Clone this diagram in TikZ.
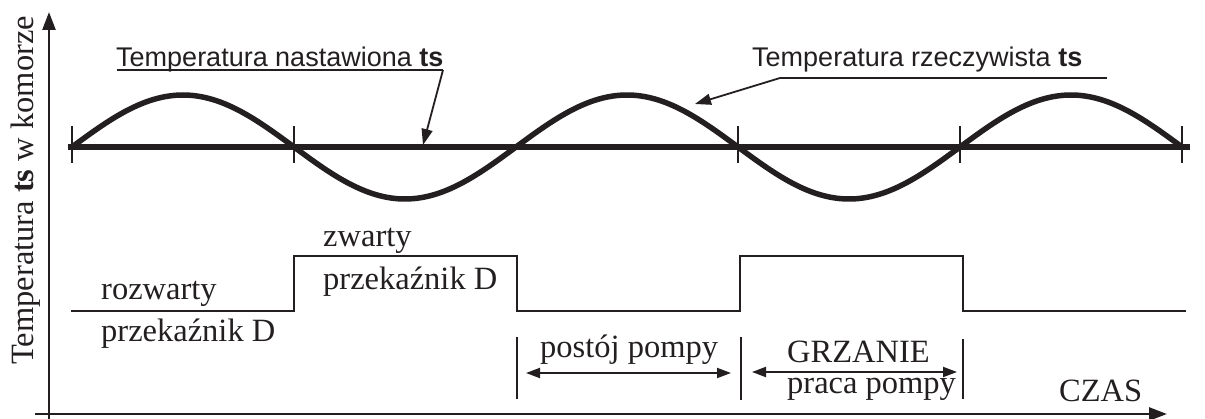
\documentclass[tikz,border=0pt]{standalone}
\usepackage{fontspec}
\setmainfont{Liberation Serif}
\newfontfamily\sansf{Liberation Sans}
\usetikzlibrary{arrows.meta}
\definecolor{ink}{HTML}{231F20}
\begin{document}
\begin{tikzpicture}[x=1pt,y=-1pt, color=ink,
  lbl/.style={inner sep=0pt, text=ink, font=\fontsize{32.5}{36}\selectfont},
  slbl/.style={inner sep=0pt, text=ink, font=\sansf\fontsize{27}{30}\selectfont},
  heavy/.style={line width=5.5pt},
  tickmark/.style={line width=2pt},
  ptr/.style={line width=1.8pt, -{Triangle[length=16pt,width=11pt]}},
  dbl/.style={line width=2pt, {Triangle[length=14pt,width=10pt]}-{Triangle[length=14pt,width=10pt]}},
  axis/.style={line width=2.6pt, -{Triangle[length=18pt,width=13pt]}},
  wave/.style={line width=2.2pt},
  bar/.style={line width=2pt}
]
\useasboundingbox (0,0) rectangle (1205,419);

% axes
\coordinate (yb) at (49,419);
\coordinate (yt) at (49,12);
\coordinate (xl) at (35,414);
\coordinate (xr) at (1167,414);
\draw[axis] (yb) -- (yt);
\draw[axis] (xl) -- (xr);
\node[lbl, rotate=90, anchor=base west] (ylab) at (33,365) {Temperatura \textbf{ts} w komorze};
\node[lbl, anchor=base west] (czas) at (1059,402) {CZAS};

% setpoint line and sine
\coordinate (sl) at (68,147);
\coordinate (sr) at (1190,147);
\draw[heavy] (sl) -- (sr);
\draw[heavy] plot[domain=0:1110, samples=300, smooth] ({\x+72},{147-52*sin(0.810811*\x)});
\foreach \t in {72,294,738,960,1182} \draw[tickmark] (\t,126) -- (\t,163);

% labels with pointers
\node[slbl, anchor=base west] (tn) at (116,67) {Temperatura nastawiona \textbf{ts}};
\coordinate (tnu) at (117,70);
\coordinate (tne) at (443,70);
\coordinate (tnt) at (423,145);
\draw[line width=1.8pt] (tnu) -- (tne);
\draw[ptr] (tne) -- (tnt);

\node[slbl, anchor=base west] (tr) at (752,67) {Temperatura rzeczywista \textbf{ts}};
\coordinate (tru) at (1107,78);
\coordinate (trs) at (780,78);
\coordinate (trt) at (695,104);
\draw[line width=1.8pt] (tru) -- (trs);
\draw[ptr] (trs) -- (trt);

% relay square wave
\coordinate (w0) at (71,311);
\coordinate (w1) at (294,256);
\coordinate (w2) at (517,311);
\coordinate (w3) at (740,256);
\coordinate (w4) at (963,311);
\coordinate (w5) at (1186,311);
\draw[wave] (w0) -| (w1) -| (w2) -| (w3) -| (w4) -- (w5);

\node[lbl, anchor=base west] (roz) at (101,300) {rozwarty};
\node[lbl, anchor=base west] (pd1) at (101,342) {przekaźnik D};
\node[lbl, anchor=base west] (zw) at (323,247) {zwarty};
\node[lbl, anchor=base west] (pd2) at (323,290) {przekaźnik D};

% intervals
\coordinate (b1t) at (517,337); \coordinate (b1b) at (517,399);
\coordinate (b2t) at (741,337); \coordinate (b2b) at (741,400);
\coordinate (b3t) at (963,339); \coordinate (b3b) at (963,399);
\draw[bar] (b1t) -- (b1b);
\draw[bar] (b2t) -- (b2b);
\draw[bar] (b3t) -- (b3b);
\coordinate (a1l) at (526,373); \coordinate (a1r) at (731,373);
\coordinate (a2l) at (752,372); \coordinate (a2r) at (957,372);
\draw[dbl] (a1l) -- (a1r);
\draw[dbl] (a2l) -- (a2r);
\node[lbl, anchor=base west] (post) at (540,358) {postój pompy};
\node[lbl, anchor=base west] (grz) at (787,363) {GRZANIE};
\node[lbl, anchor=base west] (praca) at (787,394) {praca pompy};
\end{tikzpicture}
\end{document}
